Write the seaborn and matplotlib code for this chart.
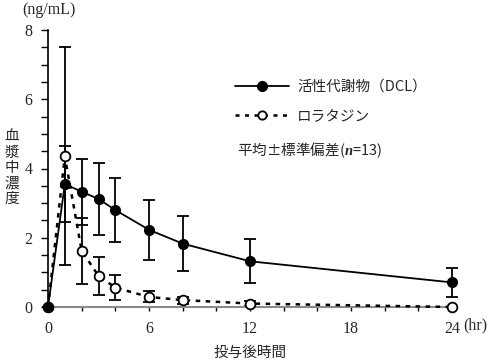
import numpy as np
import pandas as pd
import matplotlib
matplotlib.use("Agg")
import matplotlib.pyplot as plt
import seaborn as sns
from matplotlib.lines import Line2D
from matplotlib.ticker import MultipleLocator, FixedLocator

# ---- data ----
time_hr = [0, 1, 2, 3, 4, 6, 8, 12, 24]
dcl_mean = [0.0, 3.55, 3.33, 3.12, 2.80, 2.23, 1.83, 1.32, 0.71]
dcl_sd = [0.0, 1.10, 0.95, 1.03, 0.93, 0.87, 0.80, 0.63, 0.42]
lor_mean = [0.0, 4.35, 1.62, 0.90, 0.56, 0.29, 0.20, 0.10, 0.0]
lor_sd = [0.0, 3.15, 0.95, 0.54, 0.36, 0.16, 0.10, 0.06, 0.0]
series_names = ["活性代謝物（DCL）", "ロラタジン"]
y_label_chars = ["血", "漿", "中", "濃", "度"]
y_tick_labels = [0, 2, 4, 6, 8]
x_tick_labels = [0, 6, 12, 18, 24]

sns.set_style("ticks")
plt.rcParams['font.family'] = ['Liberation Serif', 'Noto Sans CJK JP', 'DejaVu Sans']
plt.rcParams['mathtext.fontset'] = 'custom'
plt.rcParams['mathtext.bfit'] = 'Liberation Serif:italic:bold'
plt.rcParams['mathtext.it'] = 'Liberation Serif:italic'
plt.rcParams['mathtext.bf'] = 'Liberation Serif:bold'
plt.rcParams['mathtext.rm'] = 'Liberation Serif'

fig = plt.figure(figsize=(4.9, 3.61), dpi=100)
ax = fig.add_axes([48/490, 54/361, (452-48)/490, (307-30)/361])

df = pd.DataFrame({
    "time": time_hr * 2,
    "conc": dcl_mean + lor_mean,
    "series": [series_names[0]] * len(time_hr) + [series_names[1]] * len(time_hr),
})

# error bars
ax.errorbar(time_hr, lor_mean, yerr=lor_sd, fmt="none", ecolor="black",
            elinewidth=1.3, capsize=4.2, capthick=1.3, zorder=2, clip_on=False)
ax.errorbar(time_hr, dcl_mean, yerr=dcl_sd, fmt="none", ecolor="black",
            elinewidth=1.3, capsize=4.2, capthick=1.3, zorder=2, clip_on=False)

sns.lineplot(data=df[df.series == series_names[1]], x="time", y="conc", ax=ax,
             color="black", lw=1.8, legend=False, zorder=3,
             marker="o", markersize=7, markerfacecolor="white",
             markeredgecolor="black", markeredgewidth=1.3, clip_on=False)
ax.lines[-1].set_dashes((1.8, 2.2))
sns.lineplot(data=df[df.series == series_names[0]], x="time", y="conc", ax=ax,
             color="black", lw=1.3, legend=False, zorder=4,
             marker="o", markersize=7, markerfacecolor="black",
             markeredgecolor="black", markeredgewidth=1.0, clip_on=False)

ax.set_xlim(0, 24)
ax.set_ylim(0, 8)
ax.xaxis.set_major_locator(FixedLocator(x_tick_labels))
ax.xaxis.set_minor_locator(MultipleLocator(2))
ax.yaxis.set_major_locator(FixedLocator(y_tick_labels))
ax.yaxis.set_minor_locator(MultipleLocator(0.5))
ax.tick_params(axis="y", which="both", direction="out", length=5, width=1.0,
               labelsize=11.5, pad=6, color="black")
ax.tick_params(axis="x", which="both", direction="out", length=3, width=1.0,
               labelsize=11.5, pad=7, color="black")
ax.set_xticklabels([str(v) for v in x_tick_labels])
ax.set_yticklabels([str(v) for v in y_tick_labels])
for s in ["top", "right"]:
    ax.spines[s].set_visible(False)
ax.spines["left"].set_linewidth(1.2)
ax.spines["left"].set_color("black")
ax.spines["bottom"].set_linewidth(1.5)
ax.spines["bottom"].set_color("#8a8a8a")
ax.set_xlabel("")
ax.set_ylabel("")

jp = ['Noto Sans CJK JP', 'DejaVu Sans']
for i, ch in enumerate(y_label_chars):
    fig.text(12/490, 1 - (137 + i * 15.5)/361, ch, ha="center", va="center",
             fontsize=10.5, family=jp)
fig.text(22/490, 1 - 10/361, "(ng/mL)", ha="left", va="center", fontsize=11.5)
fig.text(250/490, 1 - 353/361, "投与後時間", ha="center", va="center",
         fontsize=10.5, family=jp)
fig.text(463/490, 1 - 325/361, "(hr)", ha="left", va="center", fontsize=11.5)

handles = [
    Line2D([], [], color="black", lw=1.3, marker="o", markersize=7,
           markerfacecolor="black"),
    Line2D([], [], color="black", lw=1.8, dashes=(1.6, 2.2), marker="o",
           markersize=6, markerfacecolor="white", markeredgewidth=1.3),
]
leg = ax.legend(handles, series_names, loc="upper left", frameon=False,
                handlelength=3.7, handletextpad=0.55, labelspacing=1.05,
                prop={"family": jp, "size": 10.5}, borderaxespad=0,
                borderpad=0)
leg.set_bbox_to_anchor((235/490, 1 - 80/361), transform=fig.transFigure)

fig.text(237/490, 1 - 150/361, r"平均±標準偏差($\boldsymbol{n}$=13)",
         ha="left", va="center", fontsize=10.5, family=jp)

fig.savefig("out.png", dpi=100)
